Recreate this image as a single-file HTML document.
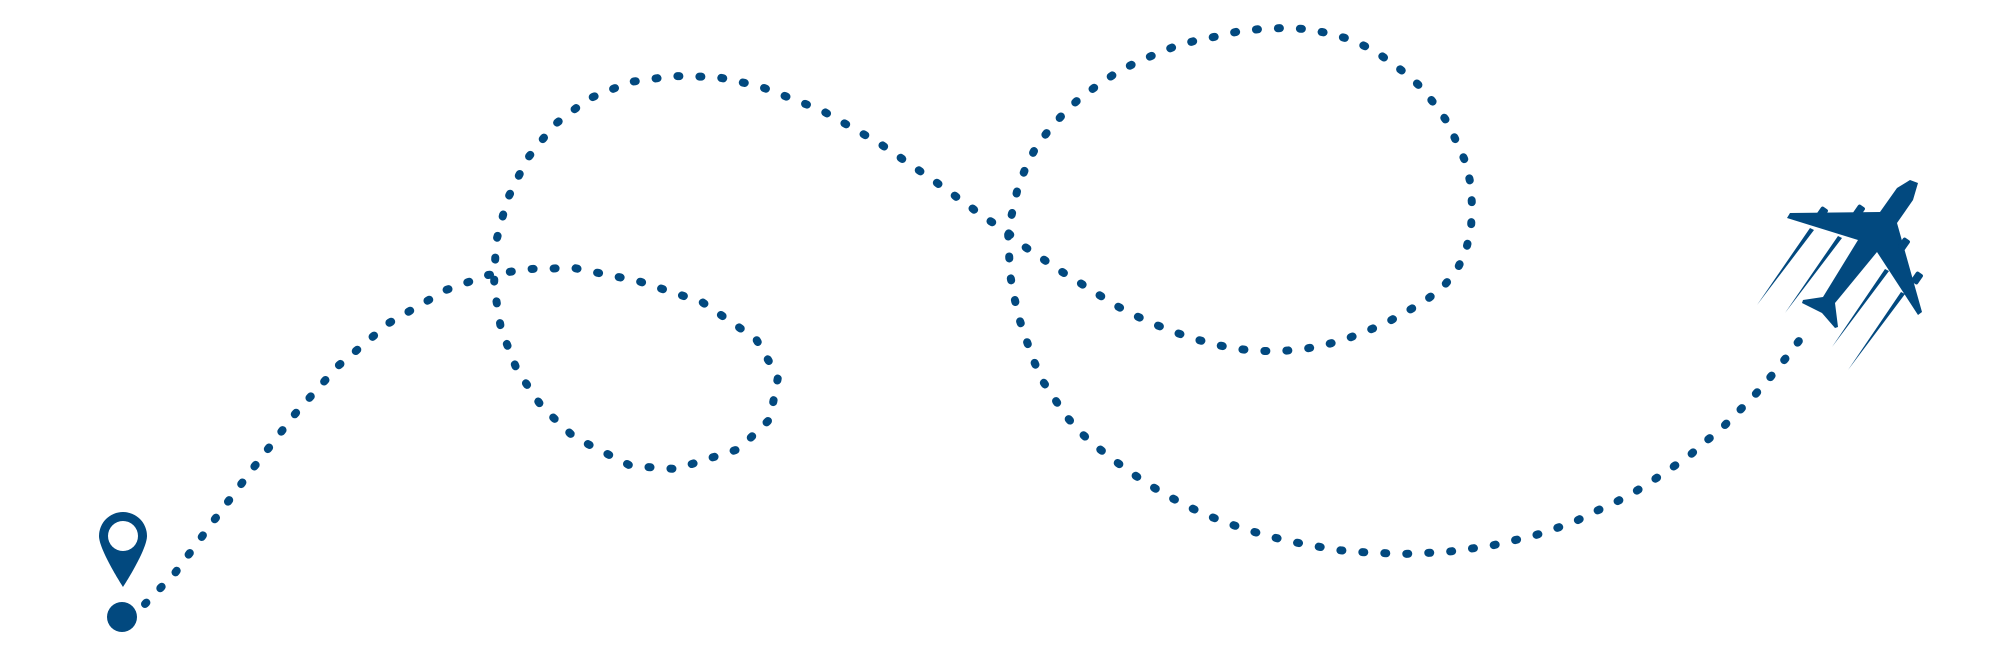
<!DOCTYPE html>
<html><head><meta charset="utf-8"><style>html,body{margin:0;padding:0;background:#fff}svg{display:block}</style></head>
<body>
<svg width="2000" height="649" viewBox="0 0 2000 649" xmlns="http://www.w3.org/2000/svg">
<polyline fill="none" stroke="#02497f" stroke-width="8" stroke-linecap="round" stroke-linejoin="round" stroke-dasharray="2 20"
points="145,604 175,573 215,519 254,467 295,414 338,366 389,323 446,290 488,275 529,269 574,268 638,281 702,302 756,339 778,377 770,419 739,449 676,469 631,466 574,437 542,407 517,370 501,329 494,286 496,242 507,200 527,159 554,125 588,99 630,82 673,76 717,77 759,86 821,110 879,143 933,180 987,219 1006,231 1022,245 1040,257 1059,270 1077,281 1096,293 1115,305 1134,315 1154,324 1174,332 1195,339 1217,345 1238,349 1260,351 1282,351 1304,349 1325,345 1346,339 1367,331 1386,323 1406,312 1425,301 1443,287 1457,270 1466,250 1471,229 1472,207 1471,186 1466,163 1457,143 1448,123 1436,106 1422,88 1405,73 1388,60 1369,48 1349,39 1327,33 1306,29 1284,28 1261,29 1240,31 1219,36 1198,40 1176,46 1156,54 1135,63 1116,73 1098,85 1080,98 1064,113 1049,130 1036,147 1026,167 1018,187 1013,209 1008,231 1009,252 1010,274 1014,296 1019,318 1026,339 1033,359 1042,380 1054,398 1066,416 1081,433 1097,447 1115,461 1133,474 1151,486 1170,497 1189,507 1209,516 1230,524 1251,531 1272,537 1293,542 1315,546 1337,550 1359,552 1381,553 1403,554 1425,553 1446,552 1468,549 1490,546 1511,541 1533,536 1554,529 1574,522 1594,512 1614,503 1633,493 1652,481 1670,469 1689,456 1705,442 1722,428 1738,412 1753,397 1768,380 1782,363 1795,346 1809,328"/>
<!-- pin -->
<path d="M123,512 a24,24 0 0 1 24,24 c0,14 -24,51 -24,51 c0,0 -24,-37 -24,-51 a24,24 0 0 1 24,-24z" fill="#02497f"/>
<circle cx="123" cy="536" r="15" fill="#fff"/>
<circle cx="122" cy="617" r="15" fill="#02497f"/>
<!-- plane -->
<g fill="#02497f">
<polygon points="1910,180 1918,183 1913,200 1897,223 1922,312 1918,315 1877,252 1840,297 1835,303 1838,327 1835,328 1822,313 1802,303 1803,300 1823,297 1858,240 1787,218 1790,213 1880,212 1897,188"/>
<rect x="1818" y="207" width="8" height="12" rx="2" transform="rotate(35 1822 213)"/>
<rect x="1855" y="205" width="8" height="12" rx="2" transform="rotate(35 1859 211)"/>
<rect x="1900" y="238" width="8" height="12" rx="2" transform="rotate(35 1904 244)"/>
<rect x="1913" y="272" width="8" height="12" rx="2" transform="rotate(35 1917 278)"/>
<polygon points="1810,228 1814,230 1757,305"/>
<polygon points="1838,236 1842,238 1785,313"/>
<polygon points="1885,269 1889,271 1832,347"/>
<polygon points="1901,292 1905,294 1848,370"/>
</g>
</svg>
</body></html>
